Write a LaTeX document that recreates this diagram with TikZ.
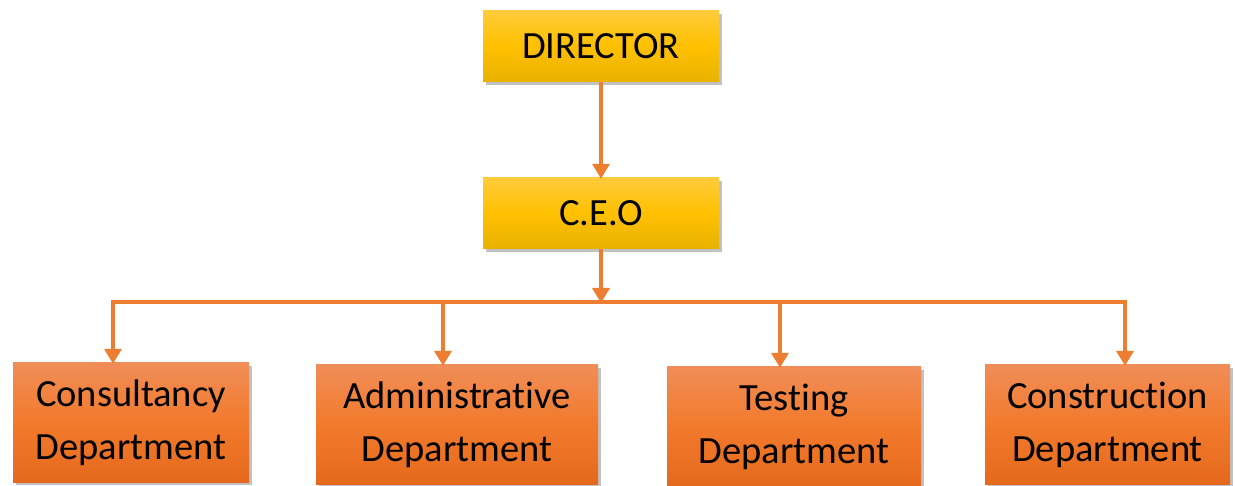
\documentclass[tikz,border=0pt]{standalone}
\usepackage{fontspec}
\setmainfont[Ligatures={NoCommon}]{Carlito}
\usetikzlibrary{arrows.meta,shadows}
\definecolor{conncol}{HTML}{ED7D31}
\definecolor{ytop}{HTML}{FFCB3A}
\definecolor{ymid}{HTML}{FFC000}
\definecolor{ybot}{HTML}{E8B200}
\definecolor{otop}{HTML}{F08D57}
\definecolor{omid}{HTML}{F27A2C}
\definecolor{obot}{HTML}{E5691C}
\tikzset{
  boxbase/.style={rectangle, inner sep=0pt, text=black, align=center,
    drop shadow={shadow xshift=2.5pt, shadow yshift=-3pt, opacity=0.35, fill=black!70}},
  topbox/.style={boxbase, minimum width=236pt, minimum height=71pt,
    top color=ytop, bottom color=ybot, middle color=ymid,
    font=\fontsize{38.5}{46}\selectfont},
  deptbox/.style={boxbase, minimum height=119pt,
    top color=otop, bottom color=obot, middle color=omid,
    font=\fontsize{38.5}{53}\selectfont},
  conn/.style={draw=conncol, line width=3.5pt, line join=miter},
  connarrow/.style={conn, -{Triangle[width=17pt,length=15pt]}, shorten >=-1pt}
}
\begin{document}
\begin{tikzpicture}[x=1pt,y=1pt]
\useasboundingbox (0,0) rectangle (1235,485);
% top boxes
\node[topbox] (dir) at (601,438.5) {DIRECTOR};
\node[topbox] (ceo) at (601,271.5) {C.E.O};
% departments
\node[deptbox, minimum width=236pt] (cons) at (131,62.5) {Consultancy\\Department};
\node[deptbox, minimum width=282pt] (admin) at (457,60.5) {Administrative\\Department};
\node[deptbox, minimum width=254pt] (test) at (794,58.5) {Testing\\Department};
\node[deptbox, minimum width=245pt] (constr) at (1107.5,60.5) {Construction\\Department};
% bus junction
\coordinate (bus) at (601,183);
% connectors
\draw[connarrow] (dir.south) -- (ceo.north);
\draw[connarrow] (ceo.south) -- (bus);
\draw[connarrow] (bus) -| ([xshift=-18pt]cons.north);
\draw[connarrow] (bus) -| ([xshift=-14pt]admin.north);
\draw[connarrow] (bus) -| ([xshift=-14pt]test.north);
\draw[connarrow] (bus) -| ([xshift=17.5pt]constr.north);
\end{tikzpicture}
\end{document}
